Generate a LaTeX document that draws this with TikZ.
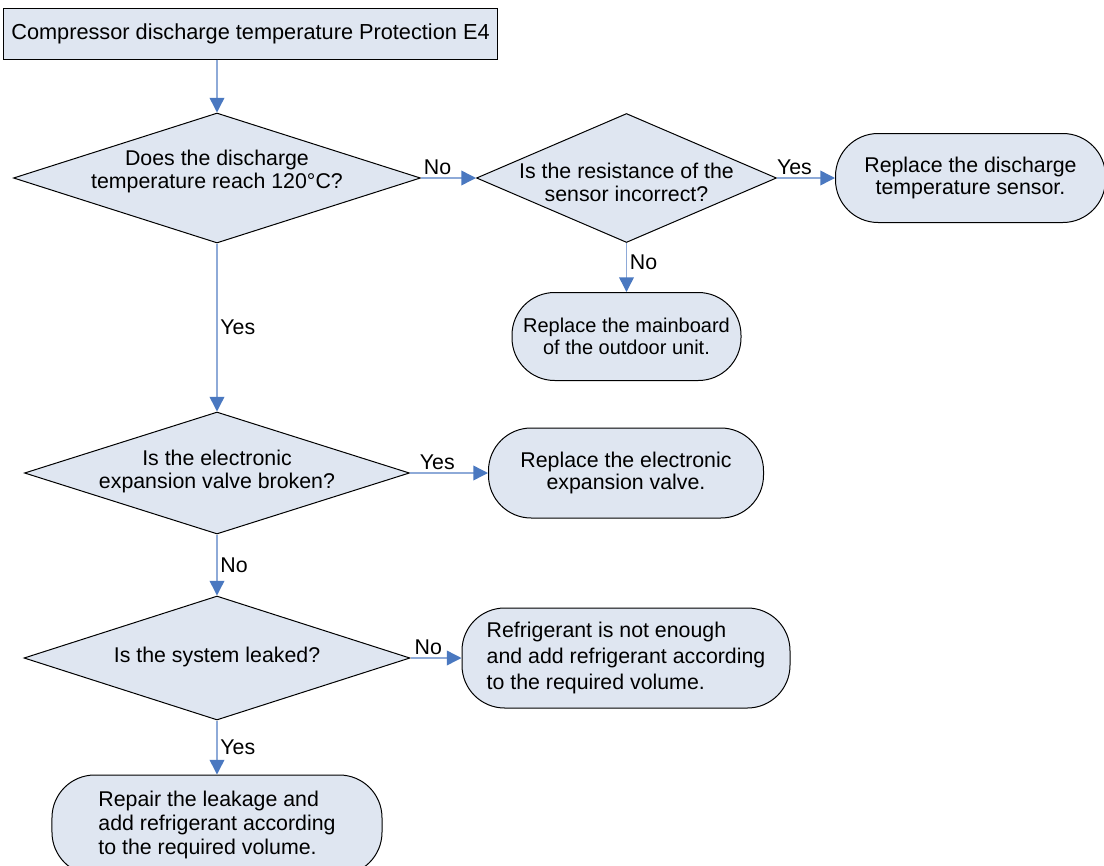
\documentclass[tikz,border=0pt]{standalone}
\usepackage{fontspec}
\setmainfont{Liberation Sans}
\usepackage{tikz}
\usetikzlibrary{arrows.meta, positioning, shapes.geometric}
\definecolor{boxfill}{HTML}{DFE6F1}
\definecolor{flowline}{HTML}{8EAAD8}
\definecolor{flowtip}{HTML}{4A78C0}
\newcommand{\qtext}[2][0pt]{\makebox[0pt]{\raisebox{#1}[0pt][0pt]{\begin{tabular}{@{}c@{}}#2\end{tabular}}}}
\tikzset{
	titlebox/.style={draw=black, line width=0.75pt, fill=boxfill,
		minimum width=369.75pt, minimum height=38.25pt, inner sep=2pt,
		font=\fontsize{16.3}{18}\selectfont},
	decision/.style={diamond, draw=black, line width=0.75pt, fill=boxfill,
		inner sep=0pt, aspect=2.5},
	action/.style={draw=black, line width=0.75pt, fill=boxfill,
		rounded corners=32pt, align=center, inner sep=3pt},
	arr/.style={draw=flowline, line width=1.1pt,
		-{Triangle[length=11pt, width=11pt, color=flowtip]}},
	tag/.style={inner sep=2pt},
}
\begin{document}
\begin{tikzpicture}[font=\fontsize{16}{17}\selectfont]
	\useasboundingbox (-162.75pt,-515.25pt) rectangle (665.25pt,133.5pt);
	% questions down the left side
	\node[decision, minimum width=305.25pt, minimum height=97.5pt] (temp)
		{\qtext{Does the discharge\\temperature reach 120°C?}};
	\node[titlebox, above=39.75pt of temp, xshift=25.125pt] (title)
		{Compressor discharge temperature Protection E4};
	\node[decision, minimum width=288.75pt, minimum height=91.5pt, below=126pt of temp] (valve)
		{\qtext[-4pt]{Is the electronic\\expansion valve broken?}};
	\node[decision, minimum width=289.5pt, minimum height=93pt, below=45.75pt of valve] (leak)
		{\qtext[-4pt]{Is the system leaked?}};
	% sensor branch
	\node[decision, minimum width=225pt, minimum height=96.75pt, right=41.25pt of temp] (sensor)
		{\qtext[-10pt]{Is the resistance of the\\sensor incorrect?}};
	\node[action, minimum width=202.5pt, minimum height=66.75pt, right=43.5pt of sensor] (newsensor)
		{Replace the discharge\\temperature sensor.};
	\node[action, minimum width=171.75pt, minimum height=66pt, below=36.75pt of sensor,
		font=\fontsize{15}{17}\selectfont] (board)
		{Replace the mainboard\\of the outdoor unit.};
	% other actions
	\node[action, minimum width=206.25pt, minimum height=67.5pt, right=58.5pt of valve] (newvalve)
		{Replace the electronic\\expansion valve.};
	\node[action, align=left, minimum width=246pt, minimum height=75pt, right=38.25pt of leak,
		font=\fontsize{16}{19.5}\selectfont] (refill)
		{Refrigerant is not enough\\and add refrigerant according\\to the required volume.};
	\node[action, align=left, minimum width=247.5pt, minimum height=75pt, below=40.5pt of leak,
		font=\fontsize{16}{18}\selectfont] (repair)
		{Repair the leakage and\\add refrigerant according\\to the required volume.};
	% connectors
	\draw[arr] (title.south -| temp.north) -- (temp.north);
	\draw[arr] (temp.east) -- node[tag, above, pos=0.3]{No} (sensor.west);
	\draw[arr] (sensor.east) -- node[tag, above, pos=0.3]{Yes} (newsensor.west);
	\draw[arr] (sensor.south) -- node[tag, right, pos=0.4]{No} (board.north);
	\draw[arr] (temp.south) -- node[tag, right]{Yes} (valve.north);
	\draw[arr] (valve.east) -- node[tag, above, pos=0.35]{Yes} (newvalve.west);
	\draw[arr] (valve.south) -- node[tag, right]{No} (leak.north);
	\draw[arr] (leak.east) -- node[tag, above, pos=0.35]{No} (refill.west);
	\draw[arr] (leak.south) -- node[tag, right]{Yes} (repair.north);
\end{tikzpicture}
\end{document}
